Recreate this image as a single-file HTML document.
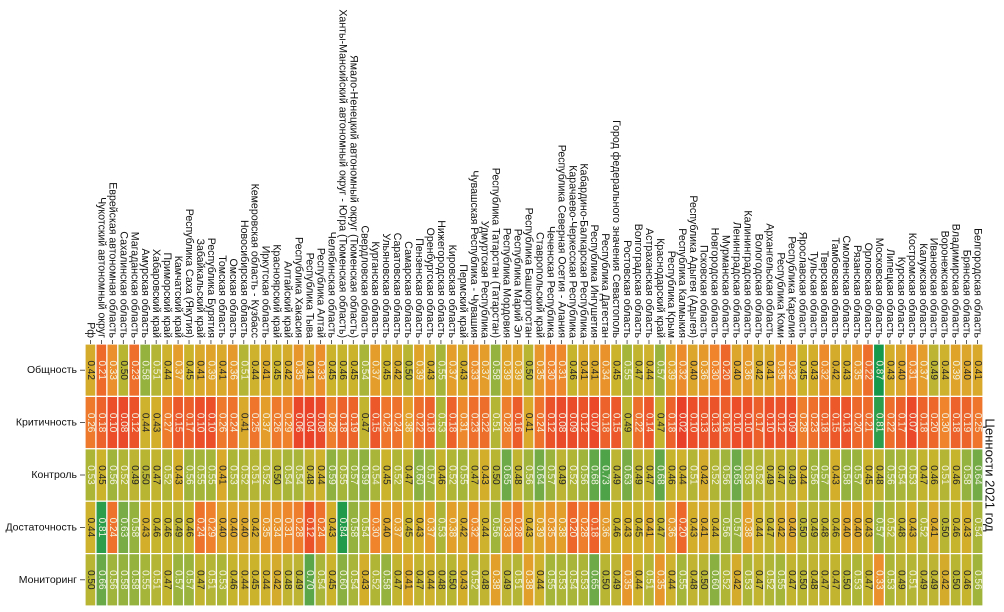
<!DOCTYPE html>
<html><head><meta charset="utf-8"><style>
html,body{margin:0;padding:0;background:#fff;width:1004px;height:612px;overflow:hidden}
svg{display:block;font-family:"Liberation Sans","DejaVu Sans",sans-serif}
</style></head><body>
<svg id="chart" width="1004" height="612" viewBox="0 0 1004 612"></svg>
<script>
const regions = ["Рф","Чукотский автономный округ","Еврейская автономная область","Сахалинская область","Магаданская область","Амурская область","Хабаровский край","Приморский край","Камчатский край","Республика Саха (Якутия)","Забайкальский край","Республика Бурятия","Томская область","Омская область","Новосибирская область","Кемеровская область - Кузбасс","Иркутская область","Красноярский край","Алтайский край","Республика Хакасия","Республика Тыва","Республика Алтай","Челябинская область","Ханты-Мансийский автономный округ - Югра (Тюменская область)","Ямало-Ненецкий автономный округ (Тюменская область)","Свердловская область","Курганская область","Ульяновская область","Саратовская область","Самарская область","Пензенская область","Оренбургская область","Нижегородская область","Кировская область","Пермский край","Чувашская Республика - Чувашия","Удмуртская Республика","Республика Татарстан (Татарстан)","Республика Мордовия","Республика Марий Эл","Республика Башкортостан","Ставропольский край","Чеченская Республика","Республика Северная Осетия - Алания","Карачаево-Черкесская Республика","Кабардино-Балкарская Республика","Республика Ингушетия","Республика Дагестан","Город федерального значения Севастополь","Ростовская область","Волгоградская область","Астраханская область","Краснодарский край","Республика Крым","Республика Калмыкия","Республика Адыгея (Адыгея)","Псковская область","Новгородская область","Мурманская область","Ленинградская область","Калининградская область","Вологодская область","Архангельская область","Республика Коми","Республика Карелия","Ярославская область","Тульская область","Тверская область","Тамбовская область","Смоленская область","Рязанская область","Орловская область","Московская область","Липецкая область","Курская область","Костромская область","Калужская область","Ивановская область","Воронежская область","Владимирская область","Брянская область","Белгородская область"];
const metrics = ["Общность","Критичность","Контроль","Достаточность","Мониторинг"];
const obshnost = [0.42,0.21,0.33,0.50,0.23,0.58,0.51,0.44,0.37,0.45,0.41,0.39,0.41,0.36,0.51,0.44,0.41,0.45,0.42,0.35,0.41,0.33,0.45,0.46,0.45,0.54,0.37,0.45,0.42,0.50,0.39,0.43,0.55,0.37,0.43,0.33,0.37,0.58,0.39,0.39,0.50,0.35,0.30,0.31,0.46,0.41,0.41,0.34,0.45,0.55,0.47,0.44,0.57,0.39,0.32,0.40,0.36,0.30,0.20,0.40,0.36,0.42,0.41,0.35,0.32,0.45,0.43,0.32,0.42,0.43,0.35,0.22,0.87,0.43,0.40,0.31,0.37,0.49,0.44,0.39,0.40,0.41];
const kritichnost = [0.26,0.18,0.10,0.08,0.12,0.44,0.43,0.27,0.15,0.17,0.10,0.10,0.26,0.24,0.41,0.25,0.37,0.26,0.29,0.06,0.04,0.08,0.28,0.18,0.19,0.47,0.15,0.25,0.24,0.38,0.22,0.18,0.53,0.18,0.31,0.23,0.22,0.51,0.28,0.16,0.41,0.24,0.12,0.08,0.09,0.12,0.07,0.18,0.15,0.49,0.22,0.14,0.47,0.18,0.02,0.10,0.13,0.13,0.16,0.10,0.10,0.17,0.10,0.12,0.09,0.28,0.23,0.18,0.15,0.13,0.20,0.21,0.81,0.22,0.17,0.07,0.18,0.20,0.30,0.18,0.19,0.25];
const kontrol = [0.53,0.45,0.56,0.52,0.49,0.50,0.47,0.52,0.43,0.56,0.55,0.55,0.41,0.53,0.52,0.51,0.52,0.50,0.54,0.54,0.48,0.44,0.59,0.55,0.57,0.59,0.54,0.45,0.52,0.47,0.60,0.57,0.46,0.52,0.55,0.47,0.43,0.50,0.65,0.48,0.56,0.64,0.57,0.49,0.52,0.56,0.68,0.73,0.49,0.63,0.49,0.47,0.68,0.46,0.44,0.51,0.42,0.52,0.56,0.65,0.53,0.52,0.49,0.47,0.49,0.44,0.56,0.57,0.43,0.58,0.57,0.45,0.48,0.56,0.54,0.53,0.47,0.46,0.51,0.46,0.58,0.64];
const dostatochnost = [0.44,0.81,0.24,0.63,0.58,0.43,0.46,0.46,0.49,0.46,0.24,0.29,0.40,0.40,0.40,0.42,0.35,0.34,0.31,0.28,0.12,0.24,0.43,0.84,0.58,0.54,0.30,0.40,0.37,0.45,0.43,0.37,0.53,0.38,0.42,0.32,0.44,0.56,0.33,0.28,0.43,0.39,0.35,0.38,0.20,0.28,0.18,0.36,0.46,0.43,0.45,0.41,0.47,0.36,0.20,0.43,0.41,0.44,0.56,0.57,0.38,0.44,0.47,0.42,0.40,0.50,0.49,0.48,0.46,0.40,0.40,0.43,0.57,0.52,0.48,0.43,0.52,0.41,0.50,0.46,0.43,0.54];
const monitoring = [0.50,0.66,0.56,0.58,0.58,0.55,0.51,0.47,0.57,0.57,0.47,0.51,0.53,0.46,0.44,0.45,0.44,0.42,0.48,0.49,0.70,0.54,0.45,0.60,0.54,0.43,0.52,0.58,0.47,0.41,0.47,0.44,0.48,0.50,0.43,0.52,0.48,0.38,0.49,0.51,0.38,0.44,0.55,0.53,0.54,0.53,0.65,0.50,0.49,0.35,0.44,0.51,0.35,0.44,0.55,0.48,0.50,0.60,0.52,0.42,0.53,0.47,0.52,0.55,0.47,0.50,0.48,0.47,0.47,0.50,0.53,0.47,0.33,0.53,0.49,0.51,0.49,0.49,0.42,0.50,0.46,0.56];
const series = [obshnost,kritichnost,kontrol,dostatochnost,monitoring];
const titleText = "Ценности 2021 год";

const NS="http://www.w3.org/2000/svg";
const svg=document.getElementById('chart');
const X0=85,X1=983,Y0=344,Y1=606;
const cw=(X1-X0)/regions.length, rh=(Y1-Y0)/metrics.length;
function xScale(i){return X0+i*cw;}
function yScale(j){return Y0+j*rh;}
const stops=[[0,[232,58,40]],[0.15,[236,88,42]],[0.30,[239,132,44]],[0.38,[226,160,42]],[0.45,[203,180,44]],[0.55,[165,181,58]],[0.65,[110,170,72]],[0.87,[22,152,76]]];
function color(v){
  if(v<=stops[0][0])return 'rgb('+stops[0][1]+')';
  for(let k=1;k<stops.length;k++){
    if(v<=stops[k][0]){const a=stops[k-1],b=stops[k];const t=(v-a[0])/(b[0]-a[0]);
      return 'rgb('+a[1].map((c,i)=>Math.round(c+(b[1][i]-c)*t)).join(',')+')';}
  }
  return 'rgb('+stops[stops.length-1][1]+')';
}
function mk(tag,attrs){const e=document.createElementNS(NS,tag);for(const k in attrs)e.setAttribute(k,attrs[k]);svg.appendChild(e);return e;}

series.forEach((row,j)=>{
  row.forEach((v,i)=>{
    const r=mk('rect',{x:xScale(i),y:yScale(j),width:cw,height:rh,fill:color(v),stroke:'#fff','stroke-width':1.2});
    
    
    const cx=xScale(i)+cw/2, cy=yScale(j)+rh/2;
    const t=mk('text',{x:0,y:0,transform:`translate(${cx},${cy}) rotate(90)`,'text-anchor':'middle','dominant-baseline':'central','font-size':'10',fill:(v>=0.40&&v<=0.50)?'#262626':'#f2f2e0'});
    t.textContent=v.toFixed(2);
    
    
  });
});
regions.forEach((name,i)=>{
  const cx=xScale(i)+cw/2;
  const tk=mk('line',{x1:cx,x2:cx,y1:Y0-4,y2:Y0,stroke:'#333','stroke-width':0.8});
  
  
  const t=mk('text',{x:0,y:0,transform:`translate(${cx},${Y0-6}) rotate(90)`,'text-anchor':'end','dominant-baseline':'central','font-size':'10.6',fill:'#111'});
  t.textContent=name;
  
  
});
metrics.forEach((m,j)=>{
  const cy=yScale(j)+rh/2;
  const tk=mk('line',{x1:X0-5,x2:X0,y1:cy,y2:cy,stroke:'#333','stroke-width':0.8});
  
  
  const t=mk('text',{x:X0-8,y:cy,'text-anchor':'end','dominant-baseline':'central','font-size':'10.5',fill:'#111'});
  t.textContent=m;
  
  
});
const tt=mk('text',{x:0,y:0,transform:`translate(990,${(Y0+Y1)/2}) rotate(90)`,'text-anchor':'middle','dominant-baseline':'central','font-size':'13',fill:'#111'});
tt.textContent=titleText;


</script>
</body></html>
